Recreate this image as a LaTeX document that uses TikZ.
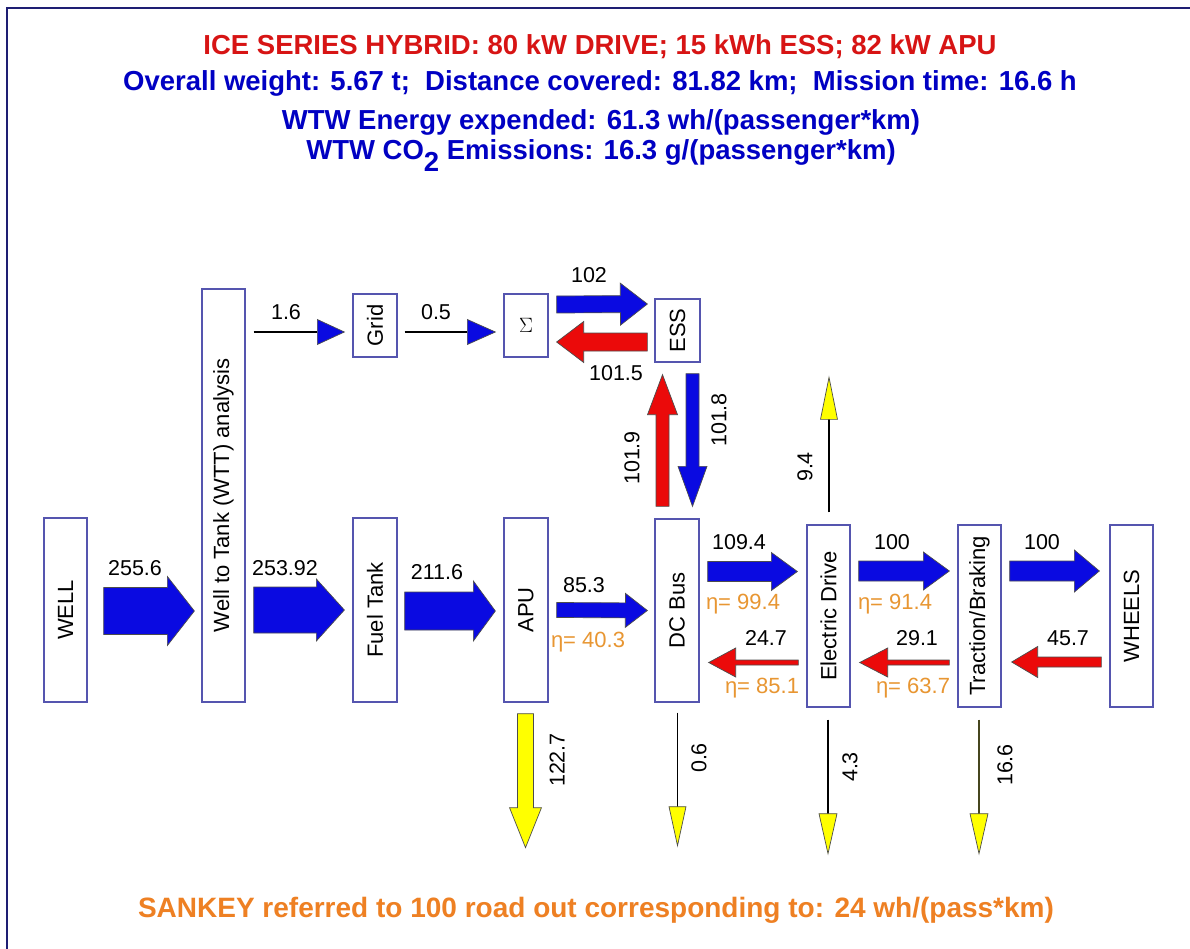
\documentclass[tikz,border=0pt]{standalone}
\usepackage{fontspec}
\setmainfont{Liberation Sans}
\usepackage{tikz}
\usetikzlibrary{calc}
\definecolor{boxblue}{RGB}{85,85,175}
\definecolor{framenavy}{RGB}{30,30,115}
\definecolor{flowblue}{RGB}{10,10,225}
\definecolor{flowred}{RGB}{235,10,10}
\definecolor{lossyellow}{RGB}{255,255,0}
\definecolor{titlered}{RGB}{215,20,20}
\definecolor{titleblue}{RGB}{0,0,195}
\definecolor{etaorange}{RGB}{232,150,50}
\definecolor{sankeyorange}{RGB}{238,128,35}
\definecolor{lossolive}{RGB}{70,70,30}
\tikzset{
  unitbox/.style  = {draw=boxblue,line width=1.3pt,fill=white,inner sep=0pt,
                     font=\fontsize{22}{25}\selectfont},
  numlbl/.style   = {font=\fontsize{21.5}{24}\selectfont,inner sep=0pt},
  etalbl/.style   = {font=\fontsize{22}{25}\selectfont,text=etaorange,inner sep=0pt},
  headline/.style = {font=\bfseries\fontsize{27.5}{31}\selectfont,anchor=base,inner sep=0pt}
}
% block arrow: from, to, body half width, head half width, head length, fill
\newcommand{\flow}[6]{%
  \coordinate (fs) at #1;
  \coordinate (fe) at #2;
  \coordinate (fh) at ($(fe)!#5!(fs)$);
  \filldraw[fill=#6,draw=black!70,line width=0.7pt,line join=miter]
    ($(fs)!#3!90:(fe)$) -- ($(fh)!#3!90:(fe)$) -- ($(fh)!#4!90:(fe)$) -- (fe)
    -- ($(fh)!#4!-90:(fe)$) -- ($(fh)!#3!-90:(fe)$) -- ($(fs)!#3!-90:(fe)$) -- cycle;
}
% line arrow: from, to, head half width, head length, fill, line colour
\newcommand{\thinflow}[6]{%
  \coordinate (fs) at #1;
  \coordinate (fe) at #2;
  \coordinate (fh) at ($(fe)!#4!(fs)$);
  \draw[#6] (fs) -- (fh);
  \filldraw[fill=#5,draw=black!70,line width=0.7pt]
    ($(fh)!#3!90:(fe)$) -- (fe) -- ($(fh)!#3!-90:(fe)$) -- cycle;
}

\begin{document}
\begin{tikzpicture}[x=1pt,y=-1pt]
  \fill[white] (0,0) rectangle (1190,949);
  \useasboundingbox (0,0) rectangle (1190,949);
  \draw[framenavy,line width=2pt] (7,949) -- (7,8) -- (1190,8);

  % headings
  \node[headline,text=titlered]  (title)  at (600,55)    {ICE SERIES HYBRID: 80 kW DRIVE; 15 kWh ESS; 82 kW APU};
  \node[headline,text=titleblue] (info)   at (600,90.7)  {Overall weight: 5.67 t;\ \ Distance covered: 81.82 km;\ \ Mission time: 16.6 h};
  \node[headline,text=titleblue] (energy) at (601,129.3) {WTW Energy expended: 61.3 wh/(passenger*km)};
  \node[headline,text=titleblue] (co2)    at (601,159.3) {WTW CO\raisebox{-12pt}{2} Emissions: 16.3 g/(passenger*km)};

  % units
  \node[unitbox,minimum width=43pt,minimum height=184pt] (well)   at (65.5,610)   {\rotatebox{90}{WELL}};
  \node[unitbox,minimum width=43pt,minimum height=413pt] (wtt)    at (223.5,495.5) {\rotatebox{90}{Well to Tank (WTT) analysis}};
  \node[unitbox,minimum width=44pt,minimum height=184pt] (tank)   at (375,610)    {\rotatebox{90}{Fuel Tank}};
  \node[unitbox,minimum width=44pt,minimum height=184pt] (apu)    at (526,610)    {\rotatebox{90}{APU}};
  \node[unitbox,minimum width=44pt,minimum height=183pt] (dcbus)  at (677,610.5)  {\rotatebox{90}{DC Bus}};
  \node[unitbox,minimum width=43pt,minimum height=182pt] (edrive) at (828.5,616)  {\rotatebox{90}{Electric Drive}};
  \node[unitbox,minimum width=43pt,minimum height=182pt] (trac)   at (979.5,616)  {\rotatebox{90}{Traction/Braking}};
  \node[unitbox,minimum width=43pt,minimum height=182pt] (wheels) at (1131.5,616) {\rotatebox{90}{WHEELS}};
  \node[unitbox,minimum width=44pt,minimum height=63pt]  (grid)   at (375,325.5)  {\rotatebox{90}{Grid}};
  \node[unitbox,minimum width=44pt,minimum height=63pt]  (sigma)  at (526,325.5)  {\fontsize{22}{24}\selectfont$\Sigma$};
  \node[unitbox,minimum width=45pt,minimum height=63pt]  (ess)    at (677.5,330.5) {\rotatebox{90}{ESS}};

  % loss ends
  \coordinate (apuloss)  at ($(apu.south)+(-0.5,145)$);
  \coordinate (busloss)  at ($(dcbus.south)+(0.5,143)$);
  \coordinate (edloss)   at ($(edrive.south)+(-0.5,146)$);
  \coordinate (tracloss) at ($(trac.south)+(-0.5,146)$);
  \coordinate (edup)     at ($(edrive.north)+(0.5,-147)$);

  % forward flows
  \flow{($(well.east)+(16,1)$)}{($(wtt.west |- well.east)+(-7,1)$)}{23.5pt}{34.5pt}{27pt}{flowblue}
  \flow{($(wtt.east |- tank.west)+(8,0)$)}{($(tank.west)+(-8,0)$)}{23pt}{31pt}{28pt}{flowblue}
  \flow{($(tank.east)+(7,1)$)}{($(apu.west)+(-8,1)$)}{19pt}{30pt}{22pt}{flowblue}
  \flow{($(apu.east)+(8,0)$)}{($(dcbus.west)+(-7,0)$)}{7.5pt}{17pt}{22pt}{flowblue}
  \flow{($(dcbus.east)+(8,-39)$)}{($(edrive.west |- dcbus.east)+(-9,-39)$)}{10pt}{19pt}{26pt}{flowblue}
  \flow{($(edrive.east)+(8,-45)$)}{($(trac.west)+(-8,-45)$)}{10pt}{19pt}{26pt}{flowblue}
  \flow{($(trac.east)+(8,-45)$)}{($(wheels.west)+(-10,-45)$)}{10pt}{21pt}{25pt}{flowblue}
  \flow{($(sigma.east)+(8,-21)$)}{($(ess.west |- sigma.east)+(-7,-21.5)$)}{8.5pt}{21pt}{27pt}{flowblue}
  \flow{($(ess.south)+(15,11)$)}{($(dcbus.north)+(15.5,-12)$)}{6.5pt}{14.5pt}{40pt}{flowblue}

  % regenerated flows
  \flow{($(wheels.west)+(-8,46)$)}{($(trac.east)+(10,46)$)}{5pt}{15.5pt}{26pt}{flowred}
  \flow{($(trac.west)+(-8,46.5)$)}{($(edrive.east)+(9,46.5)$)}{2.5pt}{14.5pt}{28pt}{flowred}
  \flow{($(edrive.west)+(-8,46.5)$)}{($(dcbus.east |- edrive.west)+(9,46.5)$)}{2.5pt}{14.5pt}{27pt}{flowred}
  \flow{($(ess.west |- sigma.east)+(-7,16.5)$)}{($(sigma.east)+(8,16.5)$)}{9pt}{20.5pt}{27pt}{flowred}
  \flow{($(dcbus.north)+(-14.5,-12)$)}{($(ess.south)+(-15,12)$)}{6.5pt}{15pt}{40pt}{flowred}

  % grid charge
  \thinflow{($(wtt.east |- grid.west)+(8,6.5)$)}{($(grid.west)+(-8,6.5)$)}{12.5pt}{27pt}{flowblue}{line width=1.2pt}
  \thinflow{($(grid.east)+(7,6.5)$)}{($(sigma.west)+(-8,6.5)$)}{12.5pt}{28pt}{flowblue}{line width=1.2pt}

  % losses
  \flow{($(apu.south)+(-0.5,11)$)}{(apuloss)}{8pt}{16pt}{40pt}{lossyellow}
  \thinflow{($(dcbus.south)+(0.5,10)$)}{(busloss)}{8.5pt}{39pt}{lossyellow}{line width=1.2pt}
  \thinflow{($(edrive.south)+(-0.5,12)$)}{(edloss)}{9pt}{40pt}{lossyellow}{line width=1.2pt}
  \thinflow{($(trac.south)+(-0.5,12)$)}{(tracloss)}{9pt}{40pt}{lossyellow}{lossolive,line width=2.4pt}
  \thinflow{($(edrive.north)+(0.5,-12)$)}{(edup)}{8.5pt}{42pt}{lossyellow}{line width=1.8pt}

  % values
  \node[numlbl] (v-well)  at (135,568) {255.6};
  \node[numlbl] (v-wtt)   at (285,568) {253.92};
  \node[numlbl] (v-tank)  at (437,572) {211.6};
  \node[numlbl] (v-apu)   at (584,585) {85.3};
  \node[numlbl] (v-grid)  at (286,312) {1.6};
  \node[numlbl] (v-sigma) at (436,312) {0.5};
  \node[numlbl] (v-chg)   at (589,275) {102};
  \node[numlbl] (v-dis)   at (616,373) {101.5};
  \node[numlbl,rotate=90] (v-up)   at (632,458) {101.9};
  \node[numlbl,rotate=90] (v-down) at (719,420) {101.8};
  \node[numlbl,rotate=90] (v-edup) at (805,467) {9.4};
  \node[numlbl] (v-bus)   at (739,542) {109.4};
  \node[numlbl] (v-ed)    at (892,542) {100};
  \node[numlbl] (v-trac)  at (1042,542) {100};
  \node[numlbl] (v-wh)    at (1068,638) {45.7};
  \node[numlbl] (v-rtrac) at (917,638) {29.1};
  \node[numlbl] (v-red)   at (766,638) {24.7};
  \node[numlbl,rotate=90] (v-apuloss)  at (557,760) {122.7};
  \node[numlbl,rotate=90] (v-busloss)  at (699,758) {0.6};
  \node[numlbl,rotate=90] (v-edloss)   at (850,767) {4.3};
  \node[numlbl,rotate=90] (v-tracloss) at (1005,765) {16.6};

  % efficiencies
  \node[etalbl] (e-apu)  at (588,642) {η= 40.3};
  \node[etalbl] (e-bus)  at (743,604) {η= 99.4};
  \node[etalbl] (e-ed)   at (895,604) {η= 91.4};
  \node[etalbl] (e-red)  at (762,688) {η= 85.1};
  \node[etalbl] (e-rtr)  at (913,688) {η= 63.7};

  \node[headline,text=sankeyorange,font=\bfseries\fontsize{28}{32}\selectfont] (note) at (596,917)
    {SANKEY referred to 100 road out corresponding to: 24 wh/(pass*km)};
\end{tikzpicture}
\end{document}
